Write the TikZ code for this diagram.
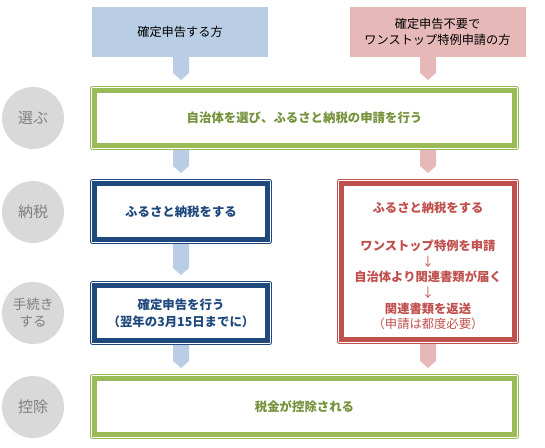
\documentclass[tikz,border=0pt]{standalone}
\usepackage{fontspec}
\setmainfont{Noto Sans CJK JP}
\usetikzlibrary{calc}
\definecolor{bfill}{HTML}{B9CDE5}
\definecolor{rfill}{HTML}{E6B9B8}
\definecolor{grn}{HTML}{9BBB59}
\definecolor{grntxt}{HTML}{76923C}
\definecolor{dblue}{HTML}{1F497D}
\definecolor{dred}{HTML}{C0504D}
\definecolor{cgray}{HTML}{D9D9D9}
\definecolor{tgray}{HTML}{7F7F7F}
\newcommand\chev[4]{\fill[#4] let \p1=(#1 |- #2.south), \p2=(#1 |- #3.north) in
  (\x1-8pt,\y1) -- (\x1+8pt,\y1) -- (\x1+8pt,\y2+13pt) -- (\x1,\y2+6pt) -- (\x1-8pt,\y2+13pt) -- cycle;}
\newcommand\frm[2]{\draw[draw=#2, line width=0.9pt, rounded corners=2pt]
  ([shift={(0.5pt,0.5pt)}]#1.south west) rectangle ([shift={(-0.5pt,-0.5pt)}]#1.north east);}
\begin{document}
\begin{tikzpicture}[x=1pt,y=-1pt,
  hdr/.style={fill=#1, minimum width=176pt, minimum height=50pt, inner sep=0pt, outer sep=0pt, align=center, font=\fontsize{12.2}{16}\selectfont},
  fbox/.style={draw=#1, line width=4.5pt, fill=white, inner sep=0pt, outer sep=4.5pt, align=center, font=\fontsize{12.4}{17}\selectfont\bfseries},
  circ/.style={circle, fill=cgray, minimum size=62pt, inner sep=0pt, text=tgray, align=center},
  rtxt/.style={text=dred, align=center, inner sep=0pt, font=\fontsize{12.3}{15.6}\selectfont}]
\useasboundingbox (0,0) rectangle (545,447);
\coordinate (cL) at (181,0);
\coordinate (cR) at (428,0);
% headers
\node[hdr=bfill] (hL) at (180,32) {確定申告する方};
\node[hdr=rfill] (hR) at (437.5,32) {確定申告不要で\\ワンストップ特例申請の方};
% circles
\node[circ, font=\fontsize{15}{15}\selectfont] (c1) at (33,118) {選ぶ};
\node[circ, font=\fontsize{15}{15}\selectfont] (c2) at (33,212) {納税};
\node[circ, font=\fontsize{13.5}{17}\selectfont] (c3) at (33,313) {手続き\\する};
\node[circ, font=\fontsize{15}{15}\selectfont] (c4) at (33,407) {控除};
% boxes
\node[fbox=grn, minimum width=420pt, minimum height=55pt, text=grntxt] (g1) at (304.5,118) {自治体を選び、ふるさと納税の申請を行う};
\node[fbox=dblue, minimum width=173pt, minimum height=56pt, text=dblue] (b1) at (181,211.5) {ふるさと納税をする};
\node[fbox=dblue, minimum width=173pt, minimum height=55pt, text=dblue] (b2) at (181,313) {確定申告を行う\\（翌年の3月15日までに）};
\node[fbox=dred, minimum width=173pt, minimum height=156pt] (r1) at (428,261.5) {};
\node[fbox=grn, minimum width=420pt, minimum height=56pt, text=grntxt] (g2) at (304.5,406.5) {税金が控除される};
\frm{g1}{grn}
\frm{b1}{dblue}
\frm{b2}{dblue}
\frm{r1}{dred}
\frm{g2}{grn}
% red box texts
\node[rtxt, font=\fontsize{12.3}{15.6}\selectfont\bfseries] (rt1) at (428,208) {ふるさと納税をする};
\node[rtxt] (rt2) at (428,285) {\bfseries ワンストップ特例を申請\\↓\\\bfseries 自治体より関連書類が届く\\↓\\\bfseries 関連書類を返送\\（申請は都度必要）};
% chevrons
\chev{cL}{hL}{g1}{bfill}
\chev{cR}{hR}{g1}{rfill}
\chev{cL}{g1}{b1}{bfill}
\chev{cR}{g1}{r1}{rfill}
\chev{cL}{b1}{b2}{bfill}
\chev{cL}{b2}{g2}{bfill}
\chev{cR}{r1}{g2}{rfill}
\end{tikzpicture}
\end{document}
